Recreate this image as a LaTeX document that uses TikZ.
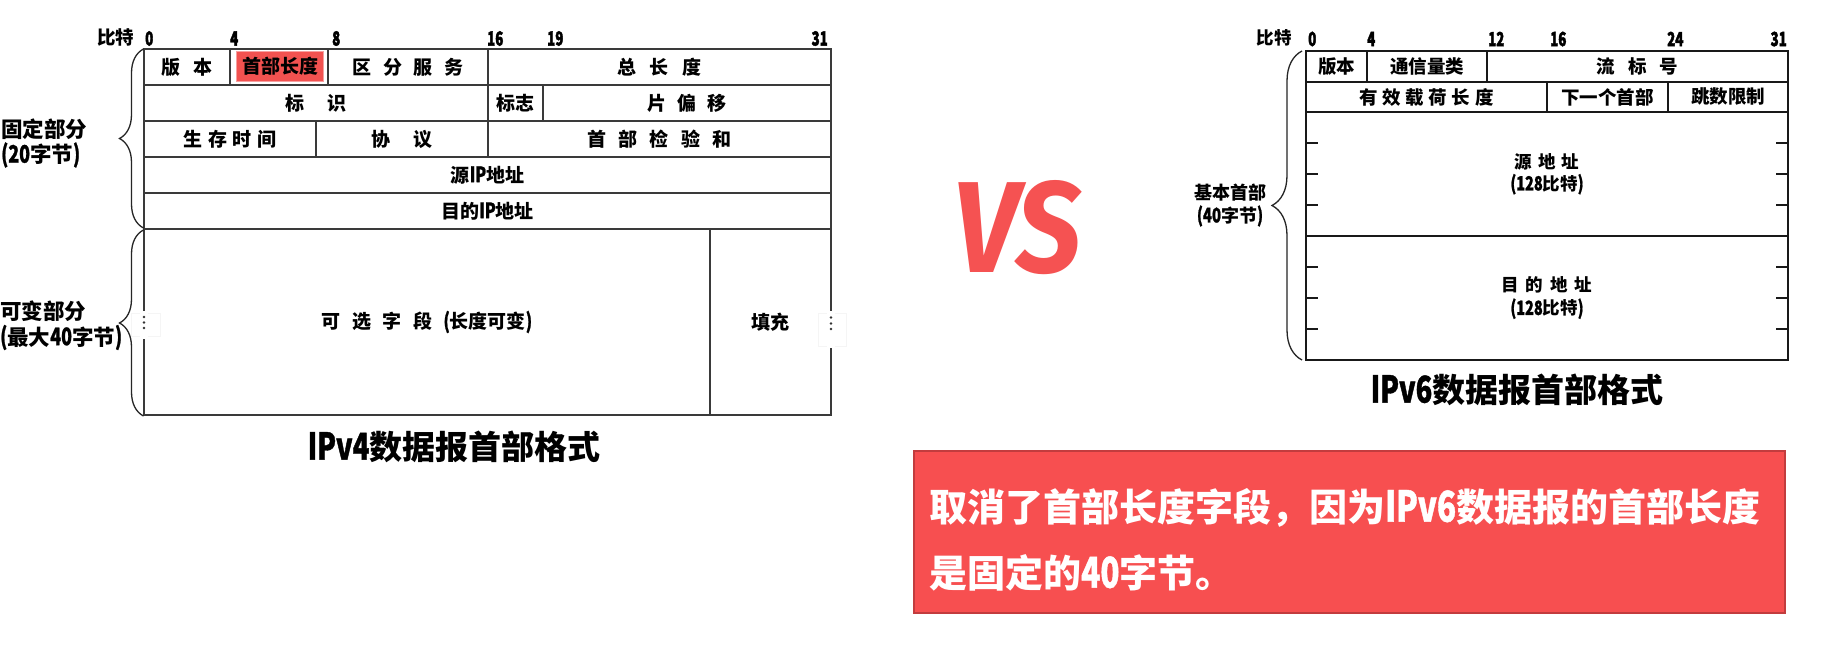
\documentclass[tikz,border=0pt]{standalone}
\usepackage{fontspec}
\usepackage{graphicx}
\setmainfont{Noto Sans CJK SC}
\newfontfamily\latf{Noto Sans CJK SC}[FakeStretch=0.74, Scale=1.12, FakeBold=1]
\newfontfamily\numf{Noto Sans CJK SC}[FakeStretch=0.68, Scale=1.15, FakeBold=2]
\newfontfamily\vsfont{Fira Sans}
\usetikzlibrary{decorations.pathreplacing}
\definecolor{vsred}{HTML}{F55252}
\definecolor{boxred}{HTML}{F74F50}
\definecolor{boxedge}{HTML}{C23C3E}
\definecolor{hlred}{HTML}{F25250}
\definecolor{hledge}{HTML}{F7A0A0}
\definecolor{gridgray}{HTML}{3A3A3A}
\newcommand\La[1]{{\latf #1}}
\newcommand\gp[1]{\hspace{#1em}}
\begin{document}
\begin{tikzpicture}[x=1pt,y=-1pt,
  grid4/.style={draw=gridgray, line width=1.4pt},
  grid6/.style={draw=black!90, line width=1.5pt},
  cell4/.style={grid4, anchor=north west, inner sep=0pt, outer sep=0pt,
    font=\fontsize{19}{22}\selectfont\bfseries},
  cell6/.style={grid6, anchor=north west, inner sep=0pt, outer sep=0pt,
    font=\fontsize{18.5}{22}\selectfont\bfseries, align=center},
  hilite/.style={fill=hlred, draw=hledge, line width=1pt, inner sep=0pt,
    minimum width=87pt, minimum height=30pt, font=\fontsize{19}{22}\selectfont\bfseries},
  bitnum/.style={inner sep=0pt, font=\fontsize{17}{20}\selectfont\bfseries\numf},
  bitcn/.style={inner sep=0pt, font=\fontsize{18.5}{20}\selectfont\bfseries},
  sidelab/.style={inner sep=0pt, anchor=west, font=\fontsize{21.5}{25}\selectfont\bfseries},
  bracest/.style={draw=black!85, line width=1.3pt, decorate},
  title/.style={inner sep=0pt, font=\fontsize{33}{36}\selectfont\bfseries},
]
\useasboundingbox (0,0) rectangle (1821,650);
\fill[white] (0,0) rectangle (1821,650);

% ---------------- IPv4 ----------------
\node[bitcn] (b4lab) at (115.5,37) {比特};
\node[bitnum, anchor=west] (b4n0) at (145,38.5) {0};
\node[bitnum, anchor=west] (b4n4) at (230,38.5) {4};
\node[bitnum, anchor=west] (b4n8) at (332,38.5) {8};
\node[bitnum, anchor=west] (b4n16) at (487,38.5) {16};
\node[bitnum, anchor=west] (b4n19) at (547,38.5) {19};
\node[bitnum, anchor=east] (b4n31) at (828,38.5) {31};

\node[cell4, minimum width=86pt, minimum height=36pt] (v4ver) at (144,49) {版\gp{0.65}本};
\node[cell4, minimum width=98pt, minimum height=36pt] (v4hl) at (230,49) {};
\node[hilite] (v4hltxt) at (280,66.5) {首部长度};
\node[cell4, minimum width=160pt, minimum height=36pt] (v4tos) at (328,49) {区\gp{.6}分\gp{.6}服\gp{.6}务};
\node[cell4, minimum width=343pt, minimum height=36pt] (v4tlen) at (488,49) {总\gp{.7}长\gp{.7}度};

\node[cell4, minimum width=344pt, minimum height=36pt] (v4id) at (144,85) {标\gp{1.25}识};
\node[cell4, minimum width=55pt, minimum height=36pt] (v4flag) at (488,85) {标志};
\node[cell4, minimum width=288pt, minimum height=36pt] (v4frag) at (543,85) {片\gp{.6}偏\gp{.6}移};

\node[cell4, minimum width=172pt, minimum height=36pt] (v4ttl) at (144,121) {生\gp{.3}存\gp{.3}时\gp{.3}间};
\node[cell4, minimum width=172pt, minimum height=36pt] (v4proto) at (316,121) {协\gp{1.25}议};
\node[cell4, minimum width=343pt, minimum height=36pt] (v4chk) at (488,121) {首\gp{.65}部\gp{.65}检\gp{.65}验\gp{.65}和};

\node[cell4, minimum width=687pt, minimum height=36pt] (v4src) at (144,157) {源\La{IP}地址};
\node[cell4, minimum width=687pt, minimum height=36pt] (v4dst) at (144,193) {目的\La{IP}地址};

\node[cell4, minimum width=566pt, minimum height=186pt] (v4opt) at (144,229) {可\gp{.6}选\gp{.6}字\gp{.6}段\gp{.6}\La{(}长度可变\La{)}};
\node[cell4, minimum width=121pt, minimum height=186pt] (v4pad) at (710,229) {填充};

% dotted breaks
\filldraw[fill=white, draw=black!4, line width=0.6pt] (131,313) rectangle (160,336);
\filldraw[fill=white, draw=black!4, line width=0.6pt] (818,313) rectangle (846,346);
\fill[white] (140,311) rectangle (148,339);
\fill[white] (827,311) rectangle (835,348);
\foreach \yy in {317,322.5,328} \fill[black!80] (144,\yy) circle (1.3);
\foreach \yy in {317.5,323.5,329} \fill[black!80] (831,\yy) circle (1.3);

% braces
\draw[bracest, decoration={brace, amplitude=24pt}] (143.5,228) -- (143.5,49);
\draw[bracest, decoration={brace, amplitude=24pt}] (143.5,416) -- (143.5,230);

\node[sidelab] (fixlab1) at (1,129) {固定部分};
\node[sidelab] (fixlab2) at (1,155) {\La{(20}字节\La{)}};
\node[sidelab] (varlab1) at (0,311) {可变部分};
\node[sidelab] (varlab2) at (0,337.5) {\La{(}最大\La{40}字节\La{)}};

\node[title] (t4) at (454,447) {\La{IPv4}数据报首部格式};

% ---------------- VS ----------------
\node[anchor=north west, inner sep=0pt, text=vsred] (vs) at (953,180)
  {\resizebox{128pt}{92pt}{\vsfont\bfseries\itshape VS}};

% ---------------- IPv6 ----------------
\node[bitcn, font=\fontsize{17.5}{20}\selectfont\bfseries] (b6lab) at (1274,38) {比特};
\node[bitnum, anchor=west] (b6n0) at (1308,39) {0};
\node[bitnum, anchor=west] (b6n4) at (1367,39) {4};
\node[bitnum, anchor=west] (b6n12) at (1488,39) {12};
\node[bitnum, anchor=west] (b6n16) at (1550,39) {16};
\node[bitnum, anchor=west] (b6n24) at (1667,39) {24};
\node[bitnum, anchor=east] (b6n31) at (1787,39) {31};

\node[cell6, minimum width=61pt, minimum height=31pt] (v6ver) at (1306,51) {版本};
\node[cell6, minimum width=120pt, minimum height=31pt] (v6tc) at (1367,51) {通信量类};
\node[cell6, minimum width=301pt, minimum height=31pt] (v6flow) at (1487,51) {流\gp{.7}标\gp{.7}号};
\node[cell6, minimum width=241pt, minimum height=30pt] (v6plen) at (1306,82) {有\gp{.25}效\gp{.25}载\gp{.25}荷\gp{.25}长\gp{.25}度};
\node[cell6, minimum width=121pt, minimum height=30pt] (v6nh) at (1547,82) {下一个首部};
\node[cell6, minimum width=120pt, minimum height=30pt] (v6hop) at (1668,82) {跳数限制};
\node[cell6, minimum width=482pt, minimum height=124pt,
  font=\fontsize{17.5}{22}\selectfont\bfseries] (v6src) at (1306,112) {源\gp{.35}地\gp{.35}址\\\La{(128}比特\La{)}};
\node[cell6, minimum width=482pt, minimum height=124pt,
  font=\fontsize{17.5}{23}\selectfont\bfseries] (v6dst) at (1306,236) {目\gp{.4}的\gp{.4}地\gp{.4}址\\\La{(128}比特\La{)}};

\foreach \yy in {143,174,205,267,298,329} {
  \draw[grid6] (1306,\yy) -- (1318,\yy);
  \draw[grid6] (1776,\yy) -- (1788,\yy);
}

\draw[bracest, decoration={brace, amplitude=30pt}] (1302,360) -- (1302,51);
\node[inner sep=0pt, font=\fontsize{18}{22}\selectfont\bfseries] (b6lab1) at (1230,193) {基本首部};
\node[inner sep=0pt, font=\fontsize{18}{22}\selectfont\bfseries] (b6lab2) at (1230,216) {\La{(40}字节\La{)}};

\node[title] (t6) at (1517,390) {\La{IPv6}数据报首部格式};

% ---------------- note box ----------------
\node[draw=boxedge, fill=boxred, line width=2pt, anchor=north west, inner sep=0pt,
  minimum width=871pt, minimum height=162pt] (notebox) at (913,450) {};
\node[anchor=west, align=left, inner sep=0pt, text=white,
  font=\fontsize{38}{66}\selectfont\bfseries] (notetxt) at (929,540)
  {取消了首部长度字段，因为\La{IPv6}数据报的首部长度\\是固定的\La{40}字节。};
\end{tikzpicture}
\end{document}
